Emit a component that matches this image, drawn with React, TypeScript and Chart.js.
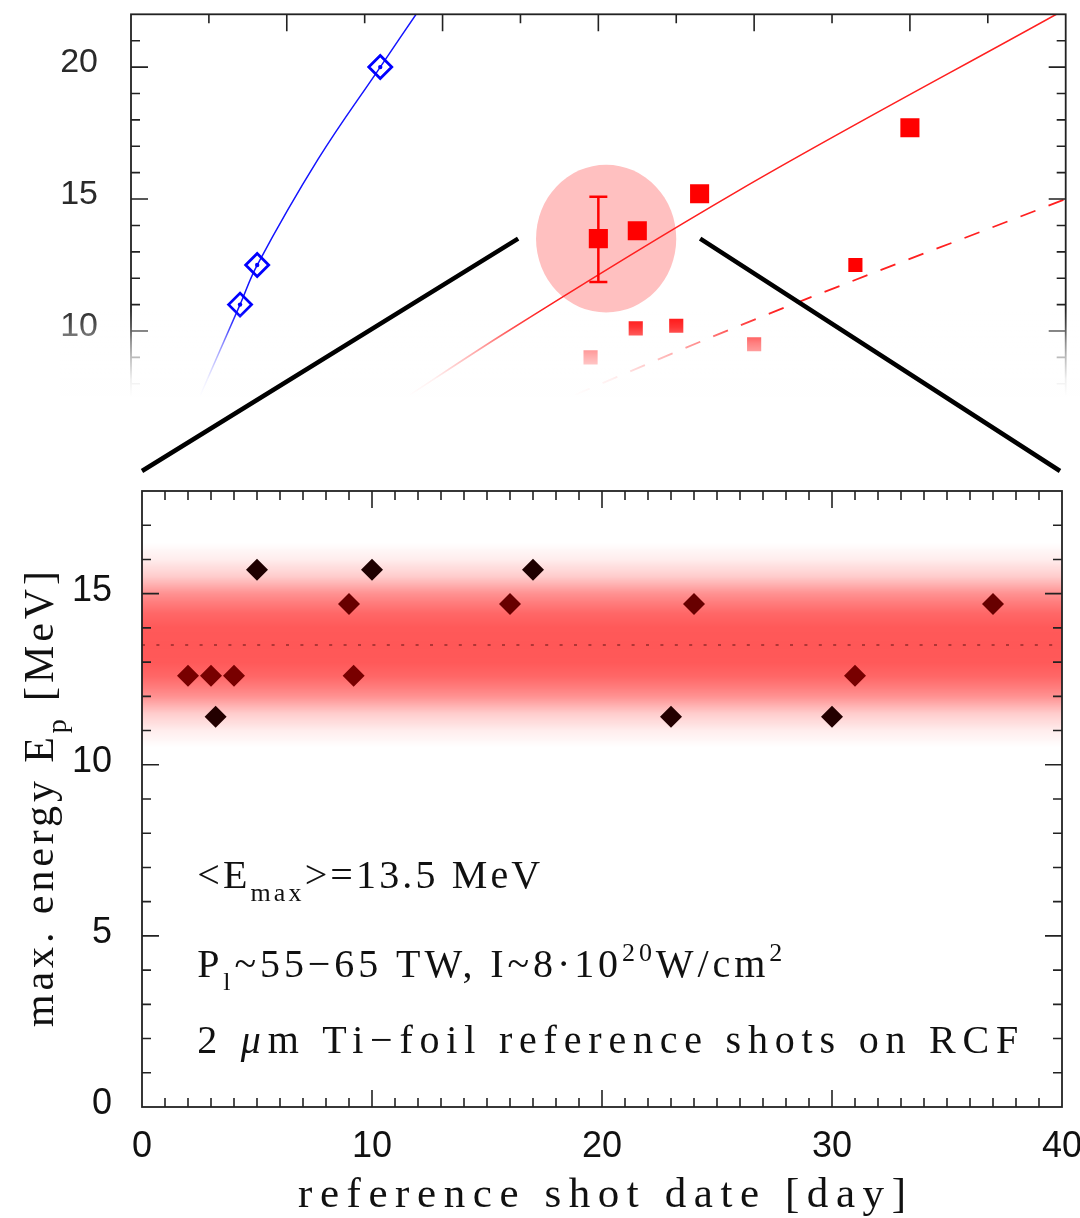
import React, { useEffect, useRef } from "react";
import { Chart, registerables } from "chart.js";

Chart.register(...registerables);

const SERIF = "'Liberation Serif', 'DejaVu Serif', serif";
const SANS = "'Liberation Sans', Arial, sans-serif";

// ---------------- inset (top) panel data ----------------
const insetYTicks = [10, 15, 20];
const blueFitX = [0.44, 0.7, 0.81, 1.2, 1.6, 1.83];
const blueFitY = [7.5, 11.0, 12.5, 16.5, 20.0, 22.0];
const blueX = [0.7, 0.81, 1.6];
const blueY = [11.0, 12.5, 20.0];
const redFitX = [1.79, 2.37, 3.9, 5.94];
const redFitY = [7.58, 9.81, 15.32, 22.0];
const redDashX = [2.85, 3.9, 6.0];
const redDashY = [7.58, 10.19, 15.0];
const redBigX = [3.0, 3.25, 3.65, 5.0];
const redBigY = [13.5, 13.8, 15.2, 17.7];
const redSmallX = [2.95, 3.24, 3.5, 4.0, 4.65];
const redSmallY = [9.0, 10.1, 10.2, 9.5, 12.5];
const errX = [3.0];
const errLow = [11.86];
const errHigh = [15.09];
const zoomCenter = [3.05, 13.5];
const zoomRadii = [0.45, 2.8];

// ---------------- main (bottom) panel data ----------------
const shotDays = [2, 3, 3.2, 4, 5, 9, 9.2, 10, 16, 17, 23, 24, 30, 31, 37];
const maxEnergies = [12.6, 12.6, 11.4, 12.6, 15.7, 14.7, 12.6, 15.7, 14.7, 15.7, 11.4, 14.7, 11.4, 12.6, 14.7];
const meanEnergy = 13.5;
const xTickValues = [0, 10, 20, 30, 40];
const yTickValues = [0, 5, 10, 15];

type Seg = { t: string; sub?: boolean; sup?: boolean; it?: boolean };
const meanLabel: Seg[] = [{ t: "<E" }, { t: "max", sub: true }, { t: ">=13.5 MeV" }];
const powerLabel: Seg[] = [
  { t: "P" }, { t: "l", sub: true }, { t: "~55\u221265 TW, I~8\u00b710" }, { t: "20", sup: true },
  { t: "W/cm" }, { t: "2", sup: true },
];
const targetLabel: Seg[] = [{ t: "2 " }, { t: "\u03bc", it: true }, { t: "m Ti\u2212foil reference shots on RCF" }];
const yTitle: Seg[] = [{ t: "max. energy E" }, { t: "p", sub: true }, { t: " [MeV]" }];
const xTitle: Seg[] = [{ t: "reference shot date [day]" }];

// band intensity profile (distance from mean -> alpha)
const bandStops: [number, number][] = [
  [0, 0.66], [0.5, 0.65], [0.9, 0.6], [1.2, 0.52], [1.5, 0.43], [2.0, 0.2], [2.5, 0.07], [3.0, 0],
];
function bandAlpha(d: number) {
  d = Math.abs(d);
  for (let i = 1; i < bandStops.length; i++) {
    const [d0, a0] = bandStops[i - 1];
    const [d1, a1] = bandStops[i];
    if (d <= d1) return a0 + ((a1 - a0) * (d - d0)) / (d1 - d0);
  }
  return 0;
}

function segFont(s: Seg, size: number) {
  const fs = s.sub || s.sup ? Math.round(size * 0.66) : size;
  return `${s.it ? "italic " : ""}${fs}px ${SERIF}`;
}
function fitSpacing(ctx: CanvasRenderingContext2D, segs: Seg[], size: number, target: number) {
  let w = 0;
  let n = 0;
  for (const s of segs) {
    ctx.font = segFont(s, size);
    (ctx as any).letterSpacing = "0px";
    w += ctx.measureText(s.t).width;
    n += Array.from(s.t).length;
  }
  return Math.max(0, (target - w) / Math.max(1, n - 1));
}
function drawRich(ctx: CanvasRenderingContext2D, segs: Seg[], x: number, y: number, size: number, target: number, center = false) {
  const sp = fitSpacing(ctx, segs, size, target);
  let cx = center ? x - target / 2 : x;
  for (const s of segs) {
    ctx.font = segFont(s, size);
    (ctx as any).letterSpacing = `${sp}px`;
    const dy = s.sub ? size * 0.32 : s.sup ? -size * 0.4 : 0;
    ctx.fillText(s.t, cx, y + dy);
    cx += ctx.measureText(s.t).width;
  }
}

function drawFrame(chart: any, o: { xStep: number; xMajor: number; yStep: number; yMajor: number; major: number; minor: number; bottom: boolean }) {
  const { ctx, chartArea: a, scales } = chart;
  const x = scales.x;
  const y = scales.y;
  ctx.save();
  ctx.strokeStyle = "#222";
  ctx.lineWidth = 1.6;
  ctx.beginPath();
  const nx = Math.round((x.max - x.min) / o.xStep);
  for (let i = 1; i < nx; i++) {
    const v = x.min + i * o.xStep;
    const px = x.getPixelForValue(v);
    const isMajor = Math.abs(v / o.xMajor - Math.round(v / o.xMajor)) < 1e-6;
    const len = isMajor ? o.major : o.minor;
    ctx.moveTo(px, a.top);
    ctx.lineTo(px, a.top + len);
    if (o.bottom) {
      ctx.moveTo(px, a.bottom);
      ctx.lineTo(px, a.bottom - len);
    }
  }
  const y0 = Math.ceil(y.min / o.yStep) * o.yStep;
  for (let v = y0; v < y.max - 1e-9; v += o.yStep) {
    if (v <= y.min + 1e-9) continue;
    const py = y.getPixelForValue(v);
    const isMajor = Math.abs(v / o.yMajor - Math.round(v / o.yMajor)) < 1e-6;
    const len = isMajor ? o.major : o.minor;
    ctx.moveTo(a.left, py);
    ctx.lineTo(a.left + len, py);
    ctx.moveTo(a.right, py);
    ctx.lineTo(a.right - len, py);
  }
  ctx.stroke();
  ctx.lineWidth = 1.8;
  ctx.strokeRect(a.left, a.top, a.right - a.left, a.bottom - a.top);
  ctx.restore();
}

const zip = (xs: number[], ys: number[]) => xs.map((x, i) => ({ x, y: ys[i] }));

export default function App() {
  const topRef = useRef<HTMLCanvasElement>(null);
  const botRef = useRef<HTMLCanvasElement>(null);

  useEffect(() => {
    const BOTTOM_OFFSET = 480;

    const bandPlugin = {
      id: "band",
      beforeDatasetsDraw(chart: any) {
        const { ctx, chartArea: a, scales } = chart;
        const y = scales.y;
        const yc = y.getPixelForValue(meanEnergy);
        const ppu = Math.abs(y.getPixelForValue(1) - y.getPixelForValue(0));
        const dMax = bandStops[bandStops.length - 1][0];
        const ext = dMax * ppu;
        const g = ctx.createLinearGradient(0, yc - ext, 0, yc + ext);
        for (const [d, al] of bandStops) {
          g.addColorStop(0.5 - d / (2 * dMax), `rgba(255,0,0,${al})`);
          g.addColorStop(0.5 + d / (2 * dMax), `rgba(255,0,0,${al})`);
        }
        ctx.save();
        ctx.fillStyle = g;
        ctx.fillRect(a.left, yc - ext, a.right - a.left, 2 * ext);
        ctx.strokeStyle = "#b03535";
        ctx.lineWidth = 2;
        ctx.setLineDash([3, 11.4]);
        ctx.beginPath();
        ctx.moveTo(a.left, yc);
        ctx.lineTo(a.right, yc);
        ctx.stroke();
        ctx.restore();
      },
      afterDatasetsDraw(chart: any) {
        drawFrame(chart, { xStep: 1, xMajor: 10, yStep: 1, yMajor: 5, major: 17, minor: 9, bottom: true });
      },
      afterDraw(chart: any) {
        const { ctx, chartArea: a, scales } = chart;
        const x = scales.x;
        const y = scales.y;
        ctx.save();
        ctx.fillStyle = "#111";
        ctx.textBaseline = "alphabetic";
        ctx.textAlign = "left";
        const tx = x.getPixelForValue(2.4);
        drawRich(ctx, meanLabel, tx, y.getPixelForValue(6.4), 40, 343);
        drawRich(ctx, powerLabel, tx, y.getPixelForValue(3.79), 40, 585);
        drawRich(ctx, targetLabel, tx, y.getPixelForValue(1.59), 40, 821);
        drawRich(ctx, xTitle, (a.left + a.right) / 2, a.bottom + 100, 43, 608, true);
        ctx.translate(53, (a.top + a.bottom) / 2);
        ctx.rotate(-Math.PI / 2);
        drawRich(ctx, yTitle, 0, 0, 42, 456, true);
        ctx.restore();
      },
    };

    const bottom = new Chart(botRef.current as HTMLCanvasElement, {
      type: "scatter",
      data: {
        datasets: [
          {
            data: zip(shotDays, maxEnergies),
            pointStyle: "rectRot",
            pointRadius: 11,
            pointBorderWidth: 0,
            pointBackgroundColor: (c: any) => {
              const v = c.raw && typeof c.raw.y === "number" ? c.raw.y : meanEnergy;
              const r = Math.round(200 * bandAlpha(v - meanEnergy));
              return `rgb(${r},0,0)`;
            },
          } as any,
        ],
      },
      options: {
        responsive: false,
        animation: false,
        devicePixelRatio: 1,
        events: [],
        layout: { padding: { top: 6, right: 18, left: 0, bottom: 0 } },
        plugins: { legend: { display: false }, tooltip: { enabled: false } },
        scales: {
          x: {
            type: "linear",
            min: 0,
            max: 40,
            grid: { display: false, drawTicks: false },
            border: { display: false },
            afterBuildTicks: (s: any) => {
              s.ticks = xTickValues.map((v) => ({ value: v }));
            },
            afterFit: (s: any) => {
              s.height = 111;
              s.paddingLeft = 0;
              s.paddingRight = 0;
            },
            ticks: { font: { family: SANS, size: 36 }, color: "#111", padding: 18, maxRotation: 0, autoSkip: false },
          },
          y: {
            type: "linear",
            min: 0,
            max: 18,
            grid: { display: false, drawTicks: false },
            border: { display: false },
            afterBuildTicks: (s: any) => {
              s.ticks = yTickValues.map((v) => ({ value: v }));
            },
            afterFit: (s: any) => {
              s.width = 142;
              s.paddingTop = 0;
              s.paddingBottom = 0;
            },
            ticks: { font: { family: SANS, size: 36 }, color: "#111", padding: 30, labelOffset: -3 },
          },
        },
      } as any,
      plugins: [bandPlugin],
    });

    const insetPlugin = {
      id: "inset",
      beforeDatasetsDraw(chart: any) {
        const { ctx, scales } = chart;
        const x = scales.x;
        const y = scales.y;
        const cx = x.getPixelForValue(zoomCenter[0]);
        const cy = y.getPixelForValue(zoomCenter[1]);
        const rx = Math.abs(x.getPixelForValue(zoomCenter[0] + zoomRadii[0]) - cx);
        const ry = Math.abs(y.getPixelForValue(zoomCenter[1] + zoomRadii[1]) - cy);
        ctx.save();
        ctx.fillStyle = "#ffc0c0";
        ctx.beginPath();
        ctx.ellipse(cx, cy, rx, ry, 0, 0, Math.PI * 2);
        ctx.fill();
        ctx.restore();
      },
      afterDatasetsDraw(chart: any) {
        const { ctx, scales } = chart;
        const x = scales.x;
        const y = scales.y;
        ctx.save();
        ctx.strokeStyle = "#ff0000";
        ctx.lineWidth = 2.5;
        ctx.beginPath();
        errX.forEach((xv, i) => {
          const px = x.getPixelForValue(xv);
          const pl = y.getPixelForValue(errLow[i]);
          const ph = y.getPixelForValue(errHigh[i]);
          ctx.moveTo(px, pl);
          ctx.lineTo(px, ph);
          ctx.moveTo(px - 9, pl);
          ctx.lineTo(px + 9, pl);
          ctx.moveTo(px - 9, ph);
          ctx.lineTo(px + 9, ph);
        });
        ctx.stroke();
        ctx.restore();
        drawFrame(chart, { xStep: 0.5, xMajor: 1, yStep: 1, yMajor: 5, major: 17, minor: 9, bottom: false });
      },
      afterDraw(chart: any) {
        const { ctx, chartArea: a, scales } = chart;
        const x = scales.x;
        const y = scales.y;
        ctx.save();
        // fade-out of the cropped inset
        const top = a.bottom - 88;
        const g = ctx.createLinearGradient(0, top, 0, a.bottom);
        g.addColorStop(0, "rgba(255,255,255,0)");
        g.addColorStop(18 / 88, "rgba(255,255,255,0.2)");
        g.addColorStop(34 / 88, "rgba(255,255,255,0.5)");
        g.addColorStop(47 / 88, "rgba(255,255,255,0.68)");
        g.addColorStop(70 / 88, "rgba(255,255,255,0.93)");
        g.addColorStop(1, "rgba(255,255,255,1)");
        ctx.fillStyle = g;
        ctx.fillRect(60, top, chart.width - 60, 88);
        ctx.fillStyle = "#fff";
        ctx.fillRect(60, a.bottom, chart.width - 60, 6);
        // zoom connector lines
        const cx = x.getPixelForValue(zoomCenter[0]);
        const cy = y.getPixelForValue(zoomCenter[1]);
        const ba = bottom.chartArea;
        const endY = BOTTOM_OFFSET + ba.top - 20;
        ctx.strokeStyle = "#000";
        ctx.lineWidth = 4.5;
        ctx.beginPath();
        ctx.moveTo(cx - 88, cy);
        ctx.lineTo(ba.left, endY);
        ctx.moveTo(cx + 94, cy);
        ctx.lineTo(ba.right - 2, endY);
        ctx.stroke();
        ctx.restore();
      },
    };

    const top = new Chart(topRef.current as HTMLCanvasElement, {
      type: "scatter",
      data: {
        datasets: [
          {
            data: zip(blueX, blueY),
            pointStyle: "circle",
            pointRadius: 2.2,
            pointBorderWidth: 0,
            pointBackgroundColor: "#0000ff",
          },
          {
            data: zip(blueX, blueY),
            pointStyle: "rectRot",
            pointRadius: 11.5,
            pointBorderWidth: 2.8,
            pointBorderColor: "#0000ff",
            pointBackgroundColor: "rgba(0,0,0,0)",
          },
          {
            data: zip(redBigX, redBigY),
            pointStyle: "rect",
            pointRadius: 13.5,
            pointBorderWidth: 0,
            pointBackgroundColor: "#ff0000",
          },
          {
            data: zip(redSmallX, redSmallY),
            pointStyle: "rect",
            pointRadius: 10,
            pointBorderWidth: 0,
            pointBackgroundColor: "#ff0000",
          },
          {
            data: zip(blueFitX, blueFitY),
            showLine: true,
            borderColor: "#1414ff",
            borderWidth: 1.5,
            pointRadius: 0,
            tension: 0.4,
          },
          {
            data: zip(redFitX, redFitY),
            showLine: true,
            borderColor: "#ff2020",
            borderWidth: 1.6,
            pointRadius: 0,
            cubicInterpolationMode: "monotone",
          },
          {
            data: zip(redDashX, redDashY),
            showLine: true,
            borderColor: "#ff2020",
            borderWidth: 1.8,
            borderDash: [16, 14],
            pointRadius: 0,
            cubicInterpolationMode: "monotone",
          },
        ] as any,
      },
      options: {
        responsive: false,
        animation: false,
        devicePixelRatio: 1,
        events: [],
        layout: { padding: { top: 7, right: 13, left: 0, bottom: 83 } },
        plugins: { legend: { display: false }, tooltip: { enabled: false } },
        scales: {
          x: { type: "linear", min: 0, max: 6, display: false },
          y: {
            type: "linear",
            min: 7.5,
            max: 22,
            grid: { display: false, drawTicks: false },
            border: { display: false },
            afterBuildTicks: (s: any) => {
              s.ticks = insetYTicks.map((v) => ({ value: v }));
            },
            afterFit: (s: any) => {
              s.width = 131;
              s.paddingTop = 0;
              s.paddingBottom = 0;
            },
            ticks: { font: { family: SANS, size: 34 }, color: "#2a2a2a", padding: 33, labelOffset: -4 },
          },
        },
      } as any,
      plugins: [insetPlugin],
    });

    return () => {
      top.destroy();
      bottom.destroy();
    };
  }, []);

  return (
    <div style={{ position: "absolute", left: 0, top: 0, width: 1080, height: 1218, background: "#fff", overflow: "hidden" }}>
      <canvas ref={topRef} width={1080} height={480} style={{ position: "absolute", left: 0, top: 0, width: 1080, height: 480 }} />
      <canvas ref={botRef} width={1080} height={738} style={{ position: "absolute", left: 0, top: 480, width: 1080, height: 738 }} />
    </div>
  );
}
